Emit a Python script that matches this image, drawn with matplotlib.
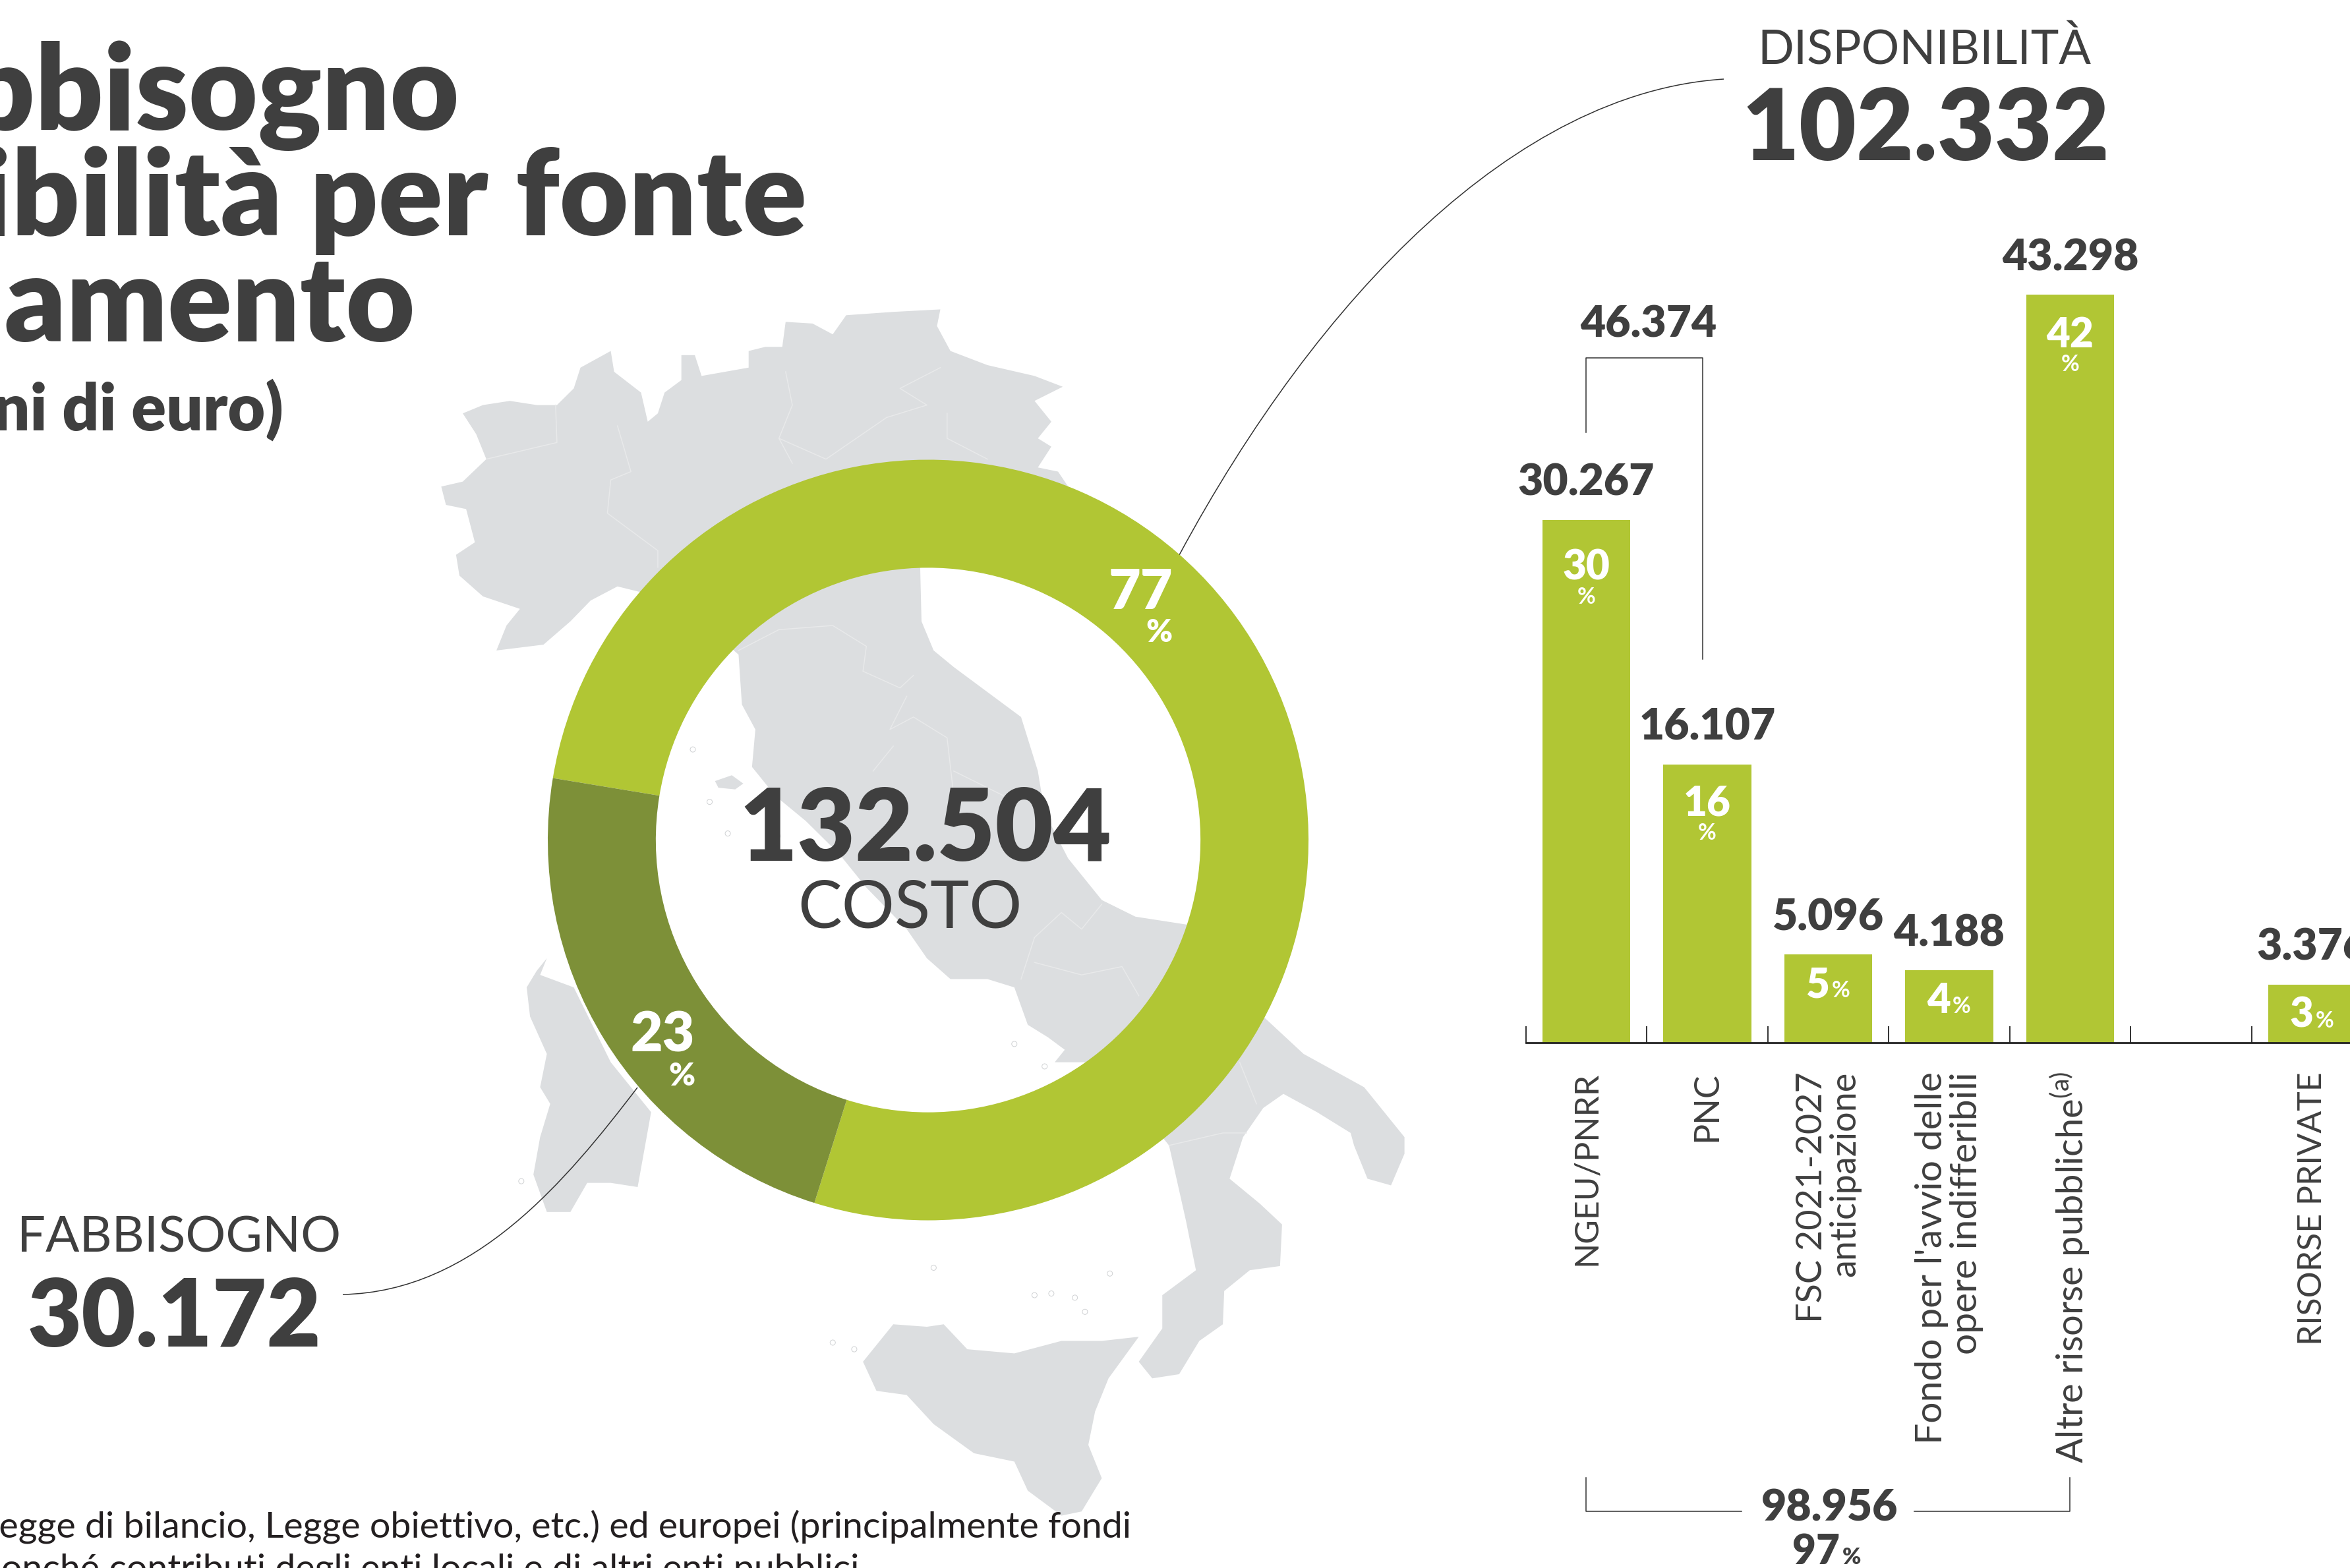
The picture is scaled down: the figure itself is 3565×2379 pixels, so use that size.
# plot.py - costo, fabbisogno e disponibilita per fonte di finanziamento
import numpy as np
import matplotlib
matplotlib.use('Agg')
import matplotlib.pyplot as plt
from matplotlib.patches import Polygon, PathPatch, Ellipse
from matplotlib.path import Path

W, H = 3565, 2379
DARK = '#3f3f3f'
GREEN = '#b1c634'
GREEN_DARK = '#7d9038'
GREY_MAP = '#dcdee0'
plt.rcParams['mathtext.default'] = 'regular'

# Data
ring_labels = ['Disponibilita', 'Fabbisogno']
ring_values = [102332, 30172]
categories = ['NGEU/PNRR', 'PNC', 'FSC 2021-2027\nanticipazione',
              "Fondo per l'avvio delle\nopere indifferibili",
              'Altre risorse pubbliche$^{(a)}$', '', 'RISORSE PRIVATE']
label_sizes = [50, 52, 54, 57, 56, 54, 50]
bar_values = [30267, 16107, 5096, 4188, 43298, 0, 3376]
bar_texts = ['30.267', '16.107', '5.096', '4.188', '43.298', '', '3.376']
bar_pcts = ['30', '16', '5', '4', '42', '', '3']

mainland = [(68,268),(100,262),(135,235),(120,205),(100,180),(130,170),(170,165),(210,170),(240,170),
            (265,150),(275,125),(320,105),(325,130),(365,155),(375,190),(390,180),(400,155),(425,140),
            (425,110),(445,110),(455,135),(490,130),(525,125),(525,105),(550,100),(575,100),(580,70),
            (620,72),(650,85),(670,62),(740,58),(810,55),(805,75),(825,105),(880,122),(950,135),(992,148),
            (950,165),(975,190),(955,210),(975,220),(955,245),(985,250),(1000,268),(900,300),(780,365),
            (782,430),(800,465),(830,485),(880,515),(930,545),(955,610),(965,660),(1000,715),(1050,765),
            (1100,785),(1180,795),(1250,860),(1290,905),(1350,950),(1440,990),(1500,1050),(1500,1070),
            (1480,1108),(1445,1100),(1425,1060),(1420,1045),(1370,1020),(1320,998),(1290,1015),(1260,1050),
            (1240,1100),(1285,1130),(1318,1155),(1315,1205),(1270,1210),(1232,1235),(1230,1275),(1195,1295),
            (1165,1335),(1125,1340),(1105,1320),(1140,1280),(1140,1240),(1190,1210),(1175,1150),(1150,1060),
            (1090,1000),(1030,960),(980,960),(995,945),(970,930),(940,915),(920,870),(880,860),(825,860),
            (790,835),(760,800),(700,750),(660,710),(610,670),(565,640),(530,605),(535,560),(515,530),
            (510,470),(440,420),(365,395),(330,388),(290,405),(260,430),(220,458),(150,465),(165,435),
            (185,415),(130,400),(95,375),(90,350),(118,335),(105,295),(75,290)]
sicily = [(695,1320),(740,1275),(790,1278),(815,1275),(850,1305),(920,1310),(990,1295),(1050,1295),
          (1105,1290),(1060,1340),(1040,1380),(1030,1420),(1050,1460),(1020,1500),(990,1505),(940,1475),
          (920,1440),(860,1430),(800,1395),(760,1360),(715,1355)]
sardinia = [(195,870),(210,850),(225,835),(215,855),(265,870),(320,960),(380,1020),(360,1110),(320,1105),
            (285,1105),(260,1140),(225,1140),(205,1095),(215,1050),(230,1010),(215,990),(225,950),(200,905)]
elba = [(475,622),(500,615),(517,625),(505,632),(480,630)]
borders = [[(135,235),(240,215),(238,170)],
           [(330,195),(350,250),(320,260),(315,300),(390,345),(390,365)],
           [(590,240),(570,210),(590,170),(580,130)],
           [(570,210),(640,235),(730,185),(790,170),(750,150),(810,125)],
           [(820,180),(820,210),(880,235)],
           [(510,465),(570,440),(650,435),(700,460),(695,490),(750,510),(770,495)],
           [(760,520),(735,560),(770,545),(820,570),(830,640)],
           [(710,610),(740,580)],[(830,610),(905,640)],
           [(950,810),(990,780),(1020,800),(1050,770)],[(950,810),(930,860)],
           [(950,840),(1020,855),(1080,845),(1105,880)],
           [(1150,1060),(1230,1045),(1265,1045)],[(1255,960),(1280,1010)]]
islets = [(442,584),(467,647),(494,685),(568,688),(920,938),(965,965),(800,1207),(950,1240),(975,1238),
          (1010,1243),(1025,1260),(1062,1214),(650,1297),(682,1305),(187,1103)]


def crop_px(pts):
    pts = np.asarray(pts, dtype=float)
    return np.column_stack([600 + pts[:, 0] / 0.98, 400 + pts[:, 1] / 0.7923])


def pt(px):
    return px * 0.72


fig = plt.figure(figsize=(W / 100, H / 100), dpi=100, facecolor='white')


def pixel_axes(z):
    a = fig.add_axes([0, 0, 1, 1], zorder=z)
    a.set_xlim(0, W)
    a.set_ylim(H, 0)
    a.axis('off')
    a.patch.set_alpha(0)
    return a


ax_bg = pixel_axes(0)
ax_top = pixel_axes(5)

# map
for shape in [mainland, sicily, sardinia, elba]:
    ax_bg.add_patch(Polygon(crop_px(shape), closed=True, fc=GREY_MAP, ec='none'))
for line in borders:
    p = crop_px(line)
    ax_bg.plot(p[:, 0], p[:, 1], color='#e8e9ea', lw=1.1)
for x, y in crop_px(islets):
    ax_bg.add_patch(Ellipse((x, y), 8, 8, fc='white', ec='#cfd1d3', lw=0.7))

# leader lines
for verts in [[(2615, 120), (2300, 140), (2000, 450), (1789, 842)],
              [(520, 1964), (720, 1960), (860, 1790), (967, 1650)]]:
    ax_bg.add_patch(PathPatch(Path(verts, [Path.MOVETO, Path.CURVE4, Path.CURVE4, Path.CURVE4]),
                              fc='none', ec='#333333', lw=1.1))

# ring
ax_ring = fig.add_axes([831 / W, (H - 1851.5) / H, 1154 / W, 1154 / H], zorder=1)
ax_ring.pie(ring_values, colors=[GREEN, GREEN_DARK], startangle=252.6, radius=1,
            wedgeprops={'width': 0.284, 'linewidth': 0})
ax_ring.set_xlim(-1, 1)
ax_ring.set_ylim(-1, 1)
ax_ring.set_aspect('auto')

# bars: 183.5 px per slot, 0.02621 px per unit, baseline at y=1582
ax_bar = fig.add_axes([2314.75 / W, (H - 1582) / H, (W - 2314.75) / W, 1182 / H], zorder=2)
ax_bar.patch.set_alpha(0)
x = np.arange(len(categories))
ax_bar.bar(x, bar_values, width=0.725, color=GREEN)
ax_bar.set_xlim(-0.5, (W - 2406.5) / 183.5)
ax_bar.set_ylim(0, 1182 / 0.02621)
for side in ['top', 'left', 'right']:
    ax_bar.spines[side].set_visible(False)
ax_bar.spines['bottom'].set_linewidth(2)
ax_bar.spines['bottom'].set_color('#222222')
ax_bar.set_yticks([])
ax_bar.set_xticks(x)
ax_bar.set_xticklabels(categories, rotation=90, ha='center', va='top', ma='right',
                       family='Lato', fontweight='normal', color=DARK, linespacing=1.05)
for lab, size in zip(ax_bar.get_xticklabels(), label_sizes):
    lab.set_fontsize(pt(size))
ax_bar.tick_params(axis='x', which='major', length=0, pad=pt(44))
ax_bar.set_xticks(x - 0.5, minor=True)
ax_bar.tick_params(axis='x', which='minor', direction='in', length=pt(25), width=1.3, color='#222222')

pct_drop = {0: 91, 1: 78, 4: 80}
for i, v in enumerate(bar_values):
    if not bar_texts[i]:
        continue
    ax_bar.annotate(bar_texts[i], (i, v), xytext=(0, pt(37)), textcoords='offset points', ha='center',
                    va='baseline', fontsize=pt(66), family='Lato', fontweight='heavy', color=DARK,
                    annotation_clip=False)
    if v > 10000:
        ax_bar.annotate(bar_pcts[i], (i, v), xytext=(0, -pt(pct_drop[i])), textcoords='offset points', ha='center',
                        va='baseline', fontsize=pt(62), family='Lato', fontweight='heavy', color='white')
        ax_bar.annotate('%', (i, v), xytext=(0, -pt(pct_drop[i] + 36)), textcoords='offset points', ha='center',
                        va='baseline', fontsize=pt(34), family='Lato', fontweight='bold', color='white')
    else:
        ax_bar.annotate(bar_pcts[i], (i, v), xytext=(pt(2), -pt(65)), textcoords='offset points', ha='right',
                        va='baseline', fontsize=pt(62), family='Lato', fontweight='heavy', color='white')
        ax_bar.annotate('%', (i, v), xytext=(pt(5), -pt(65)), textcoords='offset points', ha='left',
                        va='baseline', fontsize=pt(34), family='Lato', fontweight='bold', color='white')


def txt(x, y, s, px, weight='heavy', ha='center', color=DARK):
    ax_top.text(x, y, s, fontsize=pt(px), family='Lato', fontweight=weight, ha=ha, va='baseline', color=color)


# title, cut by the left edge as in the reference
txt(697, 197, 'Il fabbisogno', 181, ha='right')
txt(1224, 357, 'e disponibilità per fonte', 181, ha='right')
txt(630, 518, 'di finanziamento', 181, ha='right')
txt(430, 653, '(milioni di euro)', 98, ha='right')

# ring texts
txt(1404, 1306, '132.504', 152)
txt(1380, 1407, 'COSTO', 100, weight='normal')
txt(1779, 924, '77', 84, ha='right', color='white')
txt(1779, 974, '%', 48, ha='right', color='white')
txt(1054, 1596, '23', 84, ha='right', color='white')
txt(1054, 1647, '%', 48, ha='right', color='white')
txt(272, 1899, 'FABBISOGNO', 76, weight='normal')
txt(265, 2043, '30.172', 142)
txt(2919, 97, 'DISPONIBILITÀ', 72, weight='normal')
txt(2921, 243, '102.332', 150)

# brackets
ax_top.plot([2406, 2406, 2583, 2583], [656, 543, 543, 1000], color='#333333', lw=1.1)
ax_top.plot([2642, 2406, 2406], [2293, 2293, 2242], color='#333333', lw=1.1)
ax_top.plot([2904, 3140, 3140], [2293, 2293, 2242], color='#333333', lw=1.1)
txt(2501, 511, '46.374', 66)
txt(2776, 2308, '98.956', 66)
txt(2791, 2373, '97', 62, ha='right')
txt(2795, 2373, '%', 34, ha='left')

# note, cut by the edges as in the reference
txt(1716, 2332, '(a) Fondi nazionali (Legge di bilancio, Legge obiettivo, etc.) ed europei (principalmente fondi',
    55.5, weight='normal', ha='right', color='#231f20')
txt(1303, 2396, 'strutturali), nonché contributi degli enti locali e di altri enti pubblici',
    55.5, weight='normal', ha='right', color='#231f20')

fig.savefig('out.png', dpi=100)
